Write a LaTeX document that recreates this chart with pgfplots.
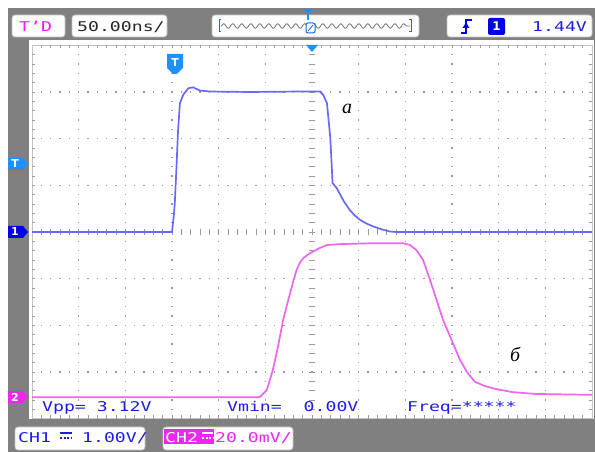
\documentclass[border=0pt]{standalone}
\usepackage{pgfplots}
\pgfplotsset{compat=1.18}
\usepackage{fontspec}
\setmainfont{Liberation Serif}
\newfontfamily\oscfont[FakeStretch=1.35]{DejaVu Sans Mono}
\newfontfamily\mk{DejaVu Sans}
\usetikzlibrary{decorations.pathmorphing}
\definecolor{bggray}{RGB}{128,128,128}
\definecolor{gridc}{RGB}{155,155,155}
\definecolor{framec}{RGB}{195,195,195}
\definecolor{chone}{RGB}{105,105,250}
\definecolor{chtwo}{RGB}{238,102,238}
\definecolor{txtblue}{RGB}{30,30,225}
\definecolor{magt}{RGB}{250,20,250}
\definecolor{lblue}{RGB}{30,144,255}
\definecolor{dblue}{RGB}{0,0,225}
\definecolor{mkmag}{RGB}{235,40,235}
\begin{document}
\begin{tikzpicture}[x=1bp,y=1bp,
  box/.style={rounded corners=3bp,fill=white,draw=black!25,line width=0.8bp},
  st/.style={font=\oscfont\fontsize{13.5}{14}\selectfont,inner sep=0pt,anchor=base west}]
% background
\fill[white] (0,0) rectangle (595,452);
\fill[bggray] (8,0) rectangle (595,444);
% screen
\fill[white] (29,33) rectangle (594,412);
% frame and edge ticks
\draw[framec,line width=0.8] (32,33.333) rectangle (592,406.667);
\foreach \j in {1,...,59}{
  \draw[gridc,line width=0.8] ({32+9.3333*\j},406.667) -- ({32+9.3333*\j},403.5);
  \draw[gridc,line width=0.8] ({32+9.3333*\j},33.333) -- ({32+9.3333*\j},36.5);
}
\foreach \j in {1,...,39}{
  \draw[gridc,line width=0.8] (32,{33.333+9.3333*\j}) -- (35.2,{33.333+9.3333*\j});
  \draw[gridc,line width=0.8] (592,{33.333+9.3333*\j}) -- (588.8,{33.333+9.3333*\j});
}
% dotted grid
\foreach \i in {1,2,3,4,5,7,8,9,10,11}{
  \foreach \j in {1,...,39}{
    \fill[gridc] ({32+46.6667*\i-0.6},{33.333+9.3333*\j-0.6}) rectangle ++(1.2,1.2);
  }
}
\foreach \k in {1,2,3,5,6,7}{
  \foreach \j in {1,...,59}{
    \fill[gridc] ({32+9.3333*\j-0.6},{33.333+46.6667*\k-0.6}) rectangle ++(1.2,1.2);
  }
}
% center cross
\foreach \j in {1,...,39}{
  \draw[gridc,line width=0.9] (309,{33.333+9.3333*\j}) -- (315,{33.333+9.3333*\j});
}
\foreach \j in {1,...,59}{
  \draw[gridc,line width=0.9] ({32+9.3333*\j},217) -- ({32+9.3333*\j},223);
}
% traces
\begin{axis}[at={(32bp,33.333bp)},anchor=south west,scale only axis,
  width=560bp,height=373.333bp,xmin=-6,xmax=6,ymin=-4,ymax=4,hide axis,clip=false]
\addplot[chone,line width=1.7bp] coordinates {
(-6,0) (-3.0,0) (-2.96,0.36) (-2.94,0.62) (-2.90,1.48) (-2.87,2.19) (-2.83,2.76)
(-2.76,2.94) (-2.65,3.08) (-2.55,3.10) (-2.40,3.03) (-2.19,3.01) (-1.33,3.00)
(-0.26,3.01) (0.17,3.01) (0.24,2.94) (0.32,2.76) (0.39,2.04) (0.42,1.48) (0.44,1.05)
(0.53,0.94) (0.60,0.81) (0.68,0.66) (0.81,0.47) (0.92,0.35) (1.03,0.26) (1.17,0.18)
(1.31,0.12) (1.48,0.06) (1.67,0.01) (1.80,0.0) (6,0)};
\addplot[chtwo,line width=1.7bp] coordinates {
(-6,-3.54) (-1.16,-3.54) (-1.11,-3.53) (-0.97,-3.39) (-0.84,-2.96) (-0.73,-2.46)
(-0.62,-1.89) (-0.47,-1.31) (-0.40,-1.05) (-0.33,-0.81) (-0.26,-0.66) (-0.19,-0.56)
(-0.08,-0.48) (0.02,-0.42) (0.15,-0.35) (0.32,-0.28)
(0.60,-0.26) (1.31,-0.24) (1.95,-0.24) (2.10,-0.28) (2.24,-0.39) (2.38,-0.60)
(2.53,-1.03) (2.67,-1.46) (2.81,-1.89) (3.02,-2.38) (3.17,-2.74) (3.32,-3.00)
(3.49,-3.21) (3.70,-3.30) (3.92,-3.36) (4.29,-3.43) (4.78,-3.47) (6,-3.49)};
\node[font=\fontsize{20}{20}\selectfont\itshape] at (axis cs:0.75,2.63) {a};
\node[font=\fontsize{20}{20}\selectfont\itshape] at (axis cs:4.35,-2.62) {б};
\end{axis}
% measurements
\node[st,text=txtblue] at (42,40) {Vpp= 3.12V};
\node[st,text=txtblue] at (227,40) {Vmin=\ \ 0.00V};
\node[st,text=txtblue] at (407,40) {Freq=*****};
% header
\draw[box] (12,415) rectangle (65,437);
\node[st,text=magt] at (19,420) {T’D};
\draw[box] (72,415) rectangle (167,437);
\node[st,text=black!85] at (77,420) {50.00ns/};
\draw[box] (212,415) rectangle (419,437);
\draw[black!55,line width=0.8,decorate,decoration={snake,segment length=9bp,amplitude=2.3bp}] (221,426) -- (410,426);
\draw[lblue!70!blue,line width=1] (221,432) -- (219,432) -- (219,420) -- (221,420);
\draw[lblue!70!blue,line width=1] (409,432) -- (411,432) -- (411,420) -- (409,420);
\draw[lblue!70!blue,line width=1,rounded corners=2,fill=white] (306,419) rectangle (315,429);
\draw[lblue!70!blue,line width=0.8] (308,421) -- (313,427);
\draw[lblue,line width=1.5] (303,442) -- (313,442);
\draw[lblue,line width=1.5] (308,442) -- (308,432);
\draw[box] (447,415) rectangle (592,437);
\draw[dblue,line width=1.6] (461,419) -- (466,419) -- (466,432) -- (472,432);
\fill[dblue] (462.5,424) -- (469.5,424) -- (466,429.5) -- cycle;
\fill[dblue,rounded corners=2] (488,417) rectangle (505,434);
\node[font=\mk\bfseries\fontsize{12}{12}\selectfont,text=white,inner sep=0] at (496.5,425.5) {1};
\node[st,text=txtblue] at (532,420) {1.44V};
% top markers
\fill[lblue] (167,398) -- (183,398) -- (183,384) -- (177,378) -- (173,378) -- (167,384) -- cycle;
\node[font=\mk\bfseries\fontsize{11}{11}\selectfont,text=white,inner sep=0] at (175,389.5) {T};
\fill[lblue] (306,407) -- (318,407) -- (312,400) -- cycle;
% left markers
\fill[lblue] (8,282) -- (23,282) -- (28,288) -- (23,294) -- (8,294) -- cycle;
\node[font=\mk\bfseries\fontsize{11}{11}\selectfont,text=white,inner sep=0] at (15,288) {T};
\fill[dblue] (8,214) -- (23,214) -- (28,220) -- (23,226) -- (8,226) -- cycle;
\node[font=\mk\bfseries\fontsize{11}{11}\selectfont,text=white,inner sep=0] at (15,220) {1};
\fill[mkmag] (8,49) -- (23,49) -- (28,55) -- (23,61) -- (8,61) -- cycle;
\node[font=\mk\bfseries\fontsize{11}{11}\selectfont,text=white,inner sep=0] at (15,55) {2};
% footer
\draw[box] (15,2) rectangle (145,25);
\node[st,text=txtblue] at (18,9) {CH1};
\draw[txtblue,line width=1.3] (60,19) -- (72,19);
\draw[txtblue,line width=1.3,dash pattern=on 2bp off 1.5bp] (60,14) -- (72,14);
\node[st,text=txtblue] at (82,9) {1.00V/};
\draw[box] (163,2) rectangle (293,25);
\fill[mkmag] (164,7.5) rectangle (214,23);
\node[st,text=white] at (165,9) {CH2};
\draw[white,line width=1.3] (202,19) -- (213,19);
\draw[white,line width=1.3,dash pattern=on 2bp off 1.5bp] (202,14) -- (213,14);
\node[st,text=mkmag] at (215,9) {20.0mV/};
\end{tikzpicture}
\end{document}
